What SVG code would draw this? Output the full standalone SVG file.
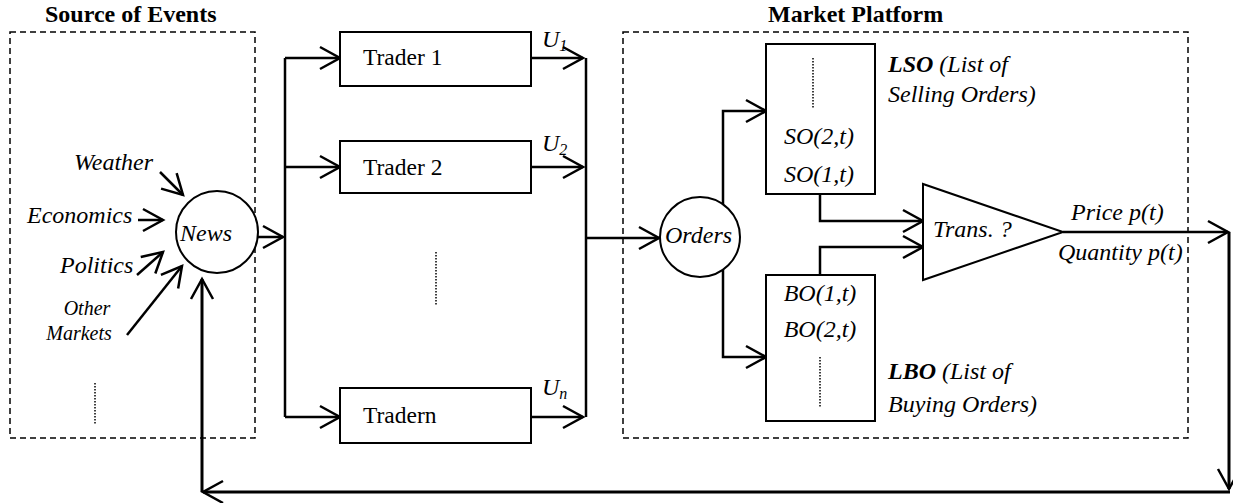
<svg xmlns="http://www.w3.org/2000/svg" width="1233" height="503" viewBox="0 0 1233 503">
<style>
text{font-family:'Liberation Serif',Tinos,'Times New Roman',Times,'Nimbus Roman','DejaVu Serif',serif;fill:#000}
.t{font-size:23.5px}
.i{font-size:24px;font-style:italic}
.ti{font-size:24px;font-weight:bold}
.sm{font-size:20px;font-style:italic}
.box{fill:#fff;stroke:#000;stroke-width:2}
.dash{fill:none;stroke:#000;stroke-width:1.5;stroke-dasharray:6,4}
.dot{fill:none;stroke:#000;stroke-width:1.5;stroke-dasharray:1.5,1.5}
.c{fill:none;stroke:#000;stroke-width:2.5;marker-end:url(#ah)}
.cn{fill:none;stroke:#000;stroke-width:2.5}
.fb{fill:none;stroke:#000;stroke-width:3}
</style>
<defs>
<marker id="ah" viewBox="-24 -14 28 28" refX="0" refY="0" markerWidth="28" markerHeight="28" markerUnits="userSpaceOnUse" orient="auto" overflow="visible">
<path d="M-20,-11 L0,0 L-20,11" fill="none" stroke="#000" stroke-width="2.5"/>
</marker>
</defs>

<g id="source-of-events">
<text class="ti" x="45" y="22">Source of Events</text>
<rect class="dash" x="10" y="32" width="245" height="406"/>
<line class="dot" x1="95" y1="383" x2="95" y2="425"/>
</g>

<g id="market-platform">
<text class="ti" x="768" y="22">Market Platform</text>
<rect class="dash" x="623" y="32" width="565" height="406"/>
</g>

<g id="weather"><text class="i" x="74" y="170">Weather</text></g>
<g id="economics"><text class="i" x="27" y="223">Economics</text></g>
<g id="politics"><text class="i" x="60" y="273">Politics</text></g>
<g id="other-markets"><text class="sm" x="87" y="315" text-anchor="middle">Other</text><text class="sm" x="79" y="340" text-anchor="middle">Markets</text></g>

<g id="connectors">
<path class="c" d="M160,172 L183,195"/>
<path class="c" d="M138,220 L163,220"/>
<path class="c" d="M137,275 L163,252"/>
<path class="c" d="M127,335 L182,266"/>
<path class="c" d="M247,237 H283"/>
<path class="cn" d="M285,58 V417"/>
<path class="c" d="M285,58 H340"/>
<path class="c" d="M285,167 H340"/>
<path class="c" d="M285,417 H340"/>
<path class="c" d="M531,58 H583"/>
<path class="c" d="M531,167 H583"/>
<path class="c" d="M531,417 H583"/>
<path class="cn" d="M586,58 V417"/>
<path class="c" d="M586,238 H659"/>
<path class="c" d="M723,204 V111 H766"/>
<path class="c" d="M723,270 V357 H766"/>
<path class="c" d="M820,194 V221 H923"/>
<path class="c" d="M820,275 V247 H923"/>
<path class="c" d="M1063,232 H1228"/>
<path class="fb" d="M1229,232 V489" marker-end="url(#ah)"/>
<path class="fb" d="M1230,492 H203" marker-end="url(#ah)"/>
<path class="fb" d="M202,492 V279" marker-end="url(#ah)"/>
</g>

<g id="news">
<circle cx="217" cy="232" r="41" fill="#fff" stroke="#000" stroke-width="2"/>
<text class="i" x="180" y="241">News</text>
</g>

<g id="trader1">
<rect class="box" x="340" y="32" width="191" height="54"/>
<text class="t" x="363" y="65">Trader 1</text>
<text class="i" x="542" y="47">U<tspan font-size="16" dy="4">1</tspan></text>
</g>
<g id="trader2">
<rect class="box" x="340" y="141" width="191" height="52"/>
<text class="t" x="363" y="175">Trader 2</text>
<text class="i" x="542" y="151">U<tspan font-size="16" dy="4">2</tspan></text>
</g>
<g id="traders-ellipsis">
<line class="dot" x1="436" y1="252" x2="436" y2="305"/>
</g>
<g id="tradern">
<rect class="box" x="340" y="388" width="191" height="55"/>
<text class="t" x="363" y="423">Tradern</text>
<text class="i" x="542" y="395">U<tspan font-size="16" dy="4">n</tspan></text>
</g>

<g id="orders">
<circle cx="700" cy="237" r="40" fill="#fff" stroke="#000" stroke-width="2"/>
<text class="i" x="665" y="243">Orders</text>
</g>

<g id="lso">
<rect class="box" x="766" y="44" width="109" height="150"/>
<line class="dot" x1="813" y1="58" x2="813" y2="109"/>
<text class="i" x="819" y="144" text-anchor="middle">SO(2,t)</text>
<text class="i" x="819" y="182" text-anchor="middle">SO(1,t)</text>
<text class="i" x="888" y="72"><tspan font-weight="bold">LSO</tspan> (List of</text>
<text class="i" x="888" y="102">Selling Orders)</text>
</g>

<g id="lbo">
<rect class="box" x="766" y="275" width="109" height="146"/>
<text class="i" x="820" y="301" text-anchor="middle">BO(1,t)</text>
<text class="i" x="820" y="337" text-anchor="middle">BO(2,t)</text>
<line class="dot" x1="820" y1="357" x2="820" y2="408"/>
<text class="i" x="888" y="379"><tspan font-weight="bold">LBO</tspan> (List of</text>
<text class="i" x="888" y="412">Buying Orders)</text>
</g>

<g id="trans">
<polygon points="923,184 923,280 1063,232" fill="#fff" stroke="#000" stroke-width="2"/>
<text class="i" x="933" y="237">Trans. ?</text>
</g>

<g id="output-labels">
<text class="i" x="1071" y="220">Price p(t)</text>
<text class="i" x="1058" y="260">Quantity p(t)</text>
</g>
</svg>
